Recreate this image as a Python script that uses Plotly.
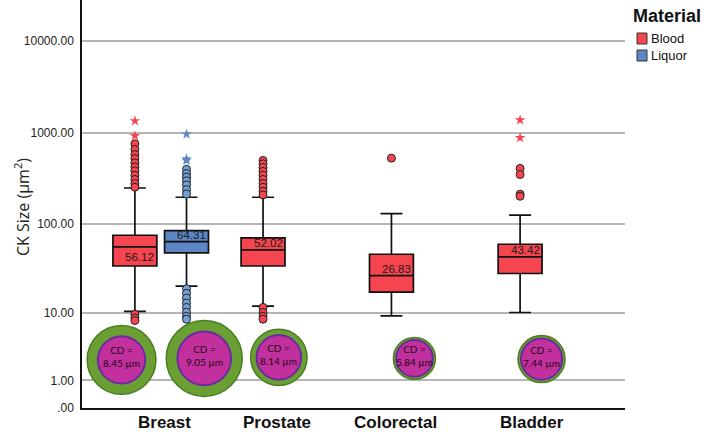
import math
import plotly.graph_objects as go

# ---------------- data ----------------
categories = ["Breast", "Prostate", "Colorectal", "Bladder"]
groups = ["Breast-Blood", "Breast-Liquor", "Prostate-Blood", "Colorectal-Blood", "Bladder-Blood"]
materials = ["Blood", "Liquor", "Blood", "Blood", "Blood"]

q1_vals = [34.4, 48.1, 34.4, 17.4, 28.3]
median_vals = [56.12, 64.31, 52.02, 26.83, 43.42]
q3_vals = [75.6, 85.2, 70.6, 46.5, 60.1]
lower_whisker = [10.3, 20.3, 11.9, 9.1, 10.0]
upper_whisker = [250, 198, 198, 131, 126]

outliers = [
    [760, 660, 580, 525, 470, 425, 385, 345, 310, 280, 255, 9.5, 8.6, 8.0],
    [400, 360, 330, 300, 270, 240, 215, 19, 16.8, 14.8, 13, 11.5, 10.1, 9.0, 8.3],
    [500, 460, 420, 380, 345, 310, 280, 255, 230, 210, 11.5, 10.0, 9.0, 8.3],
    [530],
    [409, 351, 214, 203],
]
extremes = [
    [1350, 930],
    [970, 520, 500],
    [],
    [],
    [1380, 884],
]

cd_values = [8.45, 9.05, 8.14, 5.84, 7.44]

y_tick_values = [0, 1, 10, 100, 1000, 10000]
y_tick_labels = [".00", "1.00", "10.00", "100.00", "1000.00", "10000.00"]

# ---------------- styling / layout ----------------
def slog(v):
    return math.log10(1 + v)

group_x = [1.0, 1.402, 1.998, 2.998, 4.0]
cat_label_x = [1.233, 2.105, 3.031, 4.089]
colors = {"Blood": "#F5464F", "Liquor": "#5F86C4"}
outlier_fill = {"Blood": "#F5464F", "Liquor": "#74A2D8"}
label_yshift = [-10, 7, 7, 7, 7]

circle_x = [0.896, 1.540, 2.121, 3.177, 4.167]
circle_y = [0.525, 0.541, 0.552, 0.541, 0.534]
circle_r_outer = [34.4, 38.0, 28.2, 21.0, 23.5]
circle_r_inner = [23.7, 26.8, 22.3, 18.3, 20.6]

FONT = "Liberation Sans, Arial, sans-serif"

fig = go.Figure()

for i, g in enumerate(groups):
    m = materials[i]
    fig.add_trace(go.Box(
        x=[group_x[i]],
        q1=[slog(q1_vals[i])], median=[slog(median_vals[i])], q3=[slog(q3_vals[i])],
        lowerfence=[slog(lower_whisker[i])], upperfence=[slog(upper_whisker[i])],
        width=0.342, whiskerwidth=0.5, boxpoints=False,
        fillcolor=colors[m], line=dict(color="#111111", width=1.7),
        showlegend=False, hoverinfo="skip", name=g,
    ))
    if outliers[i]:
        fig.add_trace(go.Scatter(
            x=[group_x[i]] * len(outliers[i]), y=[slog(v) for v in outliers[i]],
            mode="markers",
            marker=dict(symbol="circle", size=8, color=outlier_fill[m],
                        line=dict(color="#222222", width=1)),
            showlegend=False, hoverinfo="skip",
        ))
    if extremes[i]:
        fig.add_trace(go.Scatter(
            x=[group_x[i]] * len(extremes[i]), y=[slog(v) for v in extremes[i]],
            mode="markers",
            marker=dict(symbol="star", size=8, color=colors[m], line=dict(width=0)),
            showlegend=False, hoverinfo="skip",
        ))
    fig.add_annotation(
        x=group_x[i], y=slog(median_vals[i]), text=f"{median_vals[i]:.2f}",
        showarrow=False, xshift=5, yshift=label_yshift[i],
        font=dict(family=FONT, size=11.5, color="#1a1a1a"),
    )

shapes = []
for i, v in enumerate(cd_values):
    ro, ri = circle_r_outer[i], circle_r_inner[i]
    shapes.append(dict(type="circle", xref="x", yref="y", xsizemode="pixel", ysizemode="pixel",
                       xanchor=circle_x[i], yanchor=circle_y[i],
                       x0=-ro, x1=ro, y0=-ro, y1=ro,
                       fillcolor="#6AA033", line=dict(color="#4C7D22", width=1.5), layer="above"))
    shapes.append(dict(type="circle", xref="x", yref="y", xsizemode="pixel", ysizemode="pixel",
                       xanchor=circle_x[i], yanchor=circle_y[i],
                       x0=-ri, x1=ri, y0=-ri, y1=ri,
                       fillcolor="#C2309E", line=dict(color="#6A2AA0", width=2), layer="above"))
    fig.add_annotation(
        x=circle_x[i], y=circle_y[i], text=f"CD =<br>{v:.2f} µm", showarrow=False,
        yshift=3, font=dict(family="Lato, sans-serif", size=10, color="#1a0a14"),
    )

# legend (custom)
def px_x(p):
    return (p - 82) / 543
def px_y(p):
    return (408 - p) / 408

leg_items = ["Blood", "Liquor"]
for k, name in enumerate(leg_items):
    top = 33 + 17 * k
    shapes.append(dict(type="rect", xref="paper", yref="paper",
                       x0=px_x(637), x1=px_x(647), y0=px_y(top + 11), y1=px_y(top),
                       fillcolor=colors[name], line=dict(color="#333333", width=1)))
    fig.add_annotation(xref="paper", yref="paper", x=px_x(649), y=px_y(top + 5.5),
                       xanchor="left", yanchor="middle", text=name, showarrow=False,
                       font=dict(family=FONT, size=13, color="#111111"))
fig.add_annotation(xref="paper", yref="paper", x=px_x(631), y=px_y(16),
                   xanchor="left", yanchor="middle", text="<b>Material</b>", showarrow=False,
                   font=dict(family=FONT, size=18, color="#111111"))

# category labels
for k, name in enumerate(categories):
    fig.add_annotation(xref="x", yref="paper", x=cat_label_x[k], y=px_y(422),
                       xanchor="center", yanchor="middle", text=f"<b>{name}</b>", showarrow=False,
                       font=dict(family=FONT, size=17, color="#111111"))

# y title
fig.add_annotation(xref="paper", yref="paper", x=px_x(22), y=px_y(207),
                   text="CK Size (µm<sup>2</sup>)", textangle=-90, showarrow=False,
                   xanchor="center", yanchor="middle",
                   font=dict(family="Open Sans, sans-serif", size=16, color="#222222"))

fig.update_layout(
    width=709, height=432,
    margin=dict(l=82, r=84, t=0, b=24),
    paper_bgcolor="white", plot_bgcolor="white",
    shapes=shapes,
    showlegend=False,
    xaxis=dict(range=[0.588, 4.817], showticklabels=False,
               showgrid=False, zeroline=False, showline=True, linecolor="#111111", linewidth=1.5,
               ticks=""),
    yaxis=dict(range=[0, 4.45], tickvals=[slog(v) for v in y_tick_values], ticktext=y_tick_labels,
               showgrid=True, gridcolor="#B5B5B5", gridwidth=1.5, zeroline=False,
               showline=True, linecolor="#111111", linewidth=1.5, ticks="",
               ticklabelstandoff=4,
               tickfont=dict(family=FONT, size=12, color="#222222")),
)

fig.write_html("out.html", config={"displayModeBar": False},
               post_script="document.body.style.margin='0';document.body.style.padding='0';")
